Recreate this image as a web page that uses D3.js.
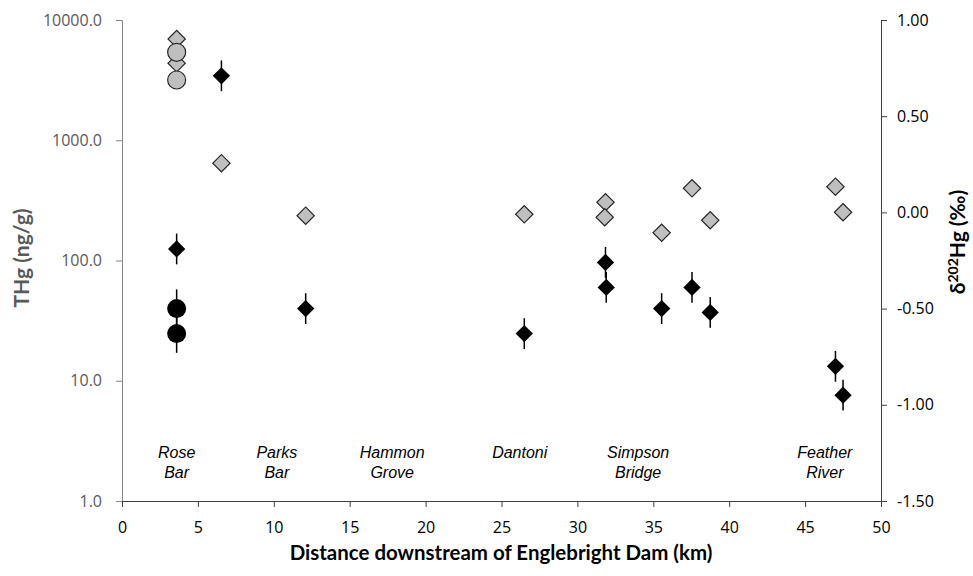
<!DOCTYPE html>
<html>
<head>
<meta charset="utf-8">
<script src="https://cdn.jsdelivr.net/npm/d3@7"></script>
<style>
  body { margin: 0; background: #fff; }
  .tick text { font-family: "Open Sans", sans-serif; font-size: 16px; }
</style>
</head>
<body>
<div class="chart"></div>
<script>
// site labels along the river
var siteNames = [["Rose", "Bar"], ["Parks", "Bar"], ["Hammon", "Grove"], ["Dantoni"], ["Simpson", "Bridge"], ["Feather", "River"]];
var siteKm = [3.6, 10.2, 17.8, 26.2, 34.0, 46.3];

// THg (ng/g), left log axis - grey symbols
var thgDiamondKm = [3.6, 3.6, 6.55, 12.1, 26.5, 31.85, 31.8, 35.55, 37.55, 38.75, 47.0, 47.5];
var thgDiamond = [6950, 4360, 645, 236, 242, 305, 229, 170, 398, 216, 411, 252];
var thgCircleKm = [3.6, 3.6];
var thgCircle = [5390, 3170];

// d202Hg (permil), right axis - black symbols with error bars
var isoDiamondKm = [3.6, 6.55, 12.1, 26.5, 31.85, 31.9, 35.55, 37.55, 38.75, 47.0, 47.5];
var isoDiamond = [-0.19, 0.71, -0.50, -0.63, -0.26, -0.39, -0.50, -0.39, -0.52, -0.80, -0.95];
var isoDiamondErr = [0.08, 0.08, 0.08, 0.08, 0.08, 0.08, 0.08, 0.08, 0.08, 0.08, 0.08];
var isoCircleKm = [3.6, 3.6];
var isoCircle = [-0.50, -0.63];
var isoCircleErr = [0.10, 0.10];

var xTicks = [0, 5, 10, 15, 20, 25, 30, 35, 40, 45, 50];
var leftTicks = [1, 10, 100, 1000, 10000];
var rightTicks = [-1.5, -1.0, -0.5, 0, 0.5, 1.0];

var svgWidth = 973;
var svgHeight = 576;
var margin = { top: 20, right: 92, bottom: 75, left: 122 };
var width = svgWidth - margin.left - margin.right;
var height = svgHeight - margin.top - margin.bottom;

var svg = d3.select(".chart")
  .append("svg")
  .attr("width", svgWidth)
  .attr("height", svgHeight);

var chartGroup = svg.append("g")
  .attr("transform", `translate(${margin.left}, ${margin.top})`);

var xScale = d3.scaleLinear().domain([0, 50]).range([0, width]);
var yLeft = d3.scaleLog().domain([1, 10000]).range([height, 0]);
var yRight = d3.scaleLinear().domain([-1.5, 1.0]).range([height, 0]);

// plain hyphen minus like the original
var fmt2 = d => d3.format(".2f")(d).replace("\u2212", "-");

// axes
var leftAxis = d3.axisLeft(yLeft).tickValues(leftTicks).tickFormat(d3.format(".1f")).tickSizeOuter(0).tickSize(6).tickPadding(14);
var gLeft = chartGroup.append("g").call(leftAxis);
gLeft.selectAll("path, line").attr("stroke", "#868686");
gLeft.selectAll("text").attr("fill", "#595959");

var rightAxis = d3.axisRight(yRight).tickValues(rightTicks).tickFormat(fmt2).tickSizeOuter(0).tickSize(6).tickPadding(10);
var gRight = chartGroup.append("g").attr("transform", `translate(${width}, 0)`).call(rightAxis);
gRight.selectAll("path, line").attr("stroke", "#404040");
gRight.selectAll("text").attr("fill", "#000");

var bottomAxis = d3.axisBottom(xScale).tickValues(xTicks).tickSizeOuter(0).tickSize(6).tickPadding(15);
var gBottom = chartGroup.append("g").attr("transform", `translate(0, ${height})`).call(bottomAxis);
gBottom.selectAll("path, line").attr("stroke", "#404040");
gBottom.selectAll("text").attr("fill", "#000");

// site labels
siteNames.forEach((lines, i) => {
  var t = chartGroup.append("text")
    .attr("x", xScale(siteKm[i]))
    .attr("y", 438)
    .attr("text-anchor", "middle")
    .style("font-family", "'Liberation Sans', Arial, sans-serif")
    .style("font-style", "italic")
    .style("font-size", "16px");
  lines.forEach((s, j) => {
    t.append("tspan").attr("x", xScale(siteKm[i])).attr("dy", j === 0 ? 0 : 20).text(s);
  });
});

// error bars for isotope values
var errData = isoDiamondKm.map((k, i) => ({ km: k, v: isoDiamond[i], e: isoDiamondErr[i] }))
  .concat(isoCircleKm.map((k, i) => ({ km: k, v: isoCircle[i], e: isoCircleErr[i] })));
chartGroup.selectAll(".errbar")
  .data(errData)
  .enter()
  .append("line")
  .attr("class", "errbar")
  .attr("x1", d => xScale(d.km))
  .attr("x2", d => xScale(d.km))
  .attr("y1", d => yRight(d.v + d.e))
  .attr("y2", d => yRight(d.v - d.e))
  .attr("stroke", "#000")
  .attr("stroke-width", 1.5);

var diamond = d3.symbol().type(d3.symbolSquare).size(150);

// grey THg diamonds
chartGroup.selectAll(".thgD")
  .data(thgDiamond)
  .enter()
  .append("path")
  .attr("d", diamond)
  .attr("transform", (d, i) => `translate(${xScale(thgDiamondKm[i])}, ${yLeft(d)}) rotate(45)`)
  .attr("fill", "#bfbfbf")
  .attr("stroke", "#262626")
  .attr("stroke-width", 1.2);

// grey THg circles
chartGroup.selectAll(".thgC")
  .data(thgCircle)
  .enter()
  .append("circle")
  .attr("cx", (d, i) => xScale(thgCircleKm[i]))
  .attr("cy", d => yLeft(d))
  .attr("r", 9)
  .attr("fill", "#bfbfbf")
  .attr("stroke", "#262626")
  .attr("stroke-width", 1.2);

// black isotope diamonds
chartGroup.selectAll(".isoD")
  .data(isoDiamond)
  .enter()
  .append("path")
  .attr("d", diamond)
  .attr("transform", (d, i) => `translate(${xScale(isoDiamondKm[i])}, ${yRight(d)}) rotate(45)`)
  .attr("fill", "#000");

// black isotope circles
chartGroup.selectAll(".isoC")
  .data(isoCircle)
  .enter()
  .append("circle")
  .attr("cx", (d, i) => xScale(isoCircleKm[i]))
  .attr("cy", d => yRight(d))
  .attr("r", 9.5)
  .attr("fill", "#000");

// axis titles
var xTitle = svg.append("text")
  .attr("x", 501)
  .attr("y", 560)
  .attr("text-anchor", "middle")
  .style("font-family", "Lato, sans-serif")
  .style("font-weight", "bold")
  .style("font-size", "22px")
  .text("Distance downstream of Englebright Dam (km)");
// squeeze to the width of the original title
var xLen = xTitle.node().getComputedTextLength();
if (xLen > 0) xTitle.style("font-size", (22 * 423 / xLen) + "px");

svg.append("text")
  .attr("transform", "translate(29, 258) rotate(-90)")
  .attr("text-anchor", "middle")
  .attr("fill", "#595959")
  .style("font-family", "Lato, sans-serif")
  .style("font-weight", "bold")
  .style("font-size", "21px")
  .text("THg (ng/g)");

var rt = svg.append("text")
  .attr("transform", "translate(965, 242) rotate(-90)")
  .attr("text-anchor", "middle")
  .style("font-family", "Lato, sans-serif")
  .style("font-weight", "bold")
  .style("font-size", "21px");
rt.append("tspan").text("δ");
rt.append("tspan").attr("dy", -7).style("font-size", "14px").text("202");
rt.append("tspan").attr("dy", 7).text("Hg (‰)");
</script>
</body>
</html>
